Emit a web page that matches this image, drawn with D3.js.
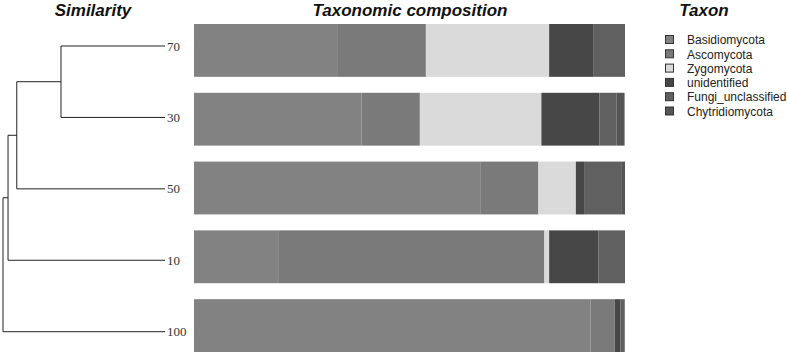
<!DOCTYPE html>
<html><head><meta charset="utf-8">
<script src="https://cdn.jsdelivr.net/npm/d3@7"></script>
<style>body{margin:0;background:#fff}svg{display:block}</style>
</head><body>
<svg id="chart" width="787" height="356"></svg>
<script>
const samples = ["70","30","50","10","100"];
const taxa = ["Basidiomycota","Ascomycota","Zygomycota","unidentified","Fungi_unclassified","Chytridiomycota"];
const basidiomycota = [33.4, 38.9, 66.4, 19.7, 92.0];
const ascomycota    = [20.4, 13.5, 13.5, 61.6, 5.6];
const zygomycota    = [28.6, 28.2, 8.7, 1.1, 0.0];
const unidentified  = [10.2, 13.5, 1.9, 11.4, 1.3];
const fungiUnclass  = [7.4, 3.9, 8.6, 6.2, 1.0];
const chytridio     = [0.0, 1.9, 0.9, 0.0, 0.1];
const colors = ["#828282","#7a7a7a","#dadada","#474747","#606060","#555555"];
// dendrogram: nested merge order and merge heights (relative distance)
const tree = [[[["70","30"],"50"],"10"],"100"];
const mergeHeights = {"70|30":0.642, "70|30|50":0.915, "70|30|50|10":0.969, "70|30|50|10|100":1.0};

const svg = d3.select("#chart");
const series = [basidiomycota, ascomycota, zygomycota, unidentified, fungiUnclass, chytridio];
const rows = samples.map((s,i)=>{const r={sample:s}; taxa.forEach((t,j)=>r[t]=series[j][i]); return r;});
const stack = d3.stack().keys(taxa)(rows);

const x = d3.scaleLinear().domain([0,100]).range([194,625]);
const y = d3.scaleBand().domain(samples).range([24,352]).paddingInner(0.232).paddingOuter(0);
const color = d3.scaleOrdinal().domain(taxa).range(colors);

svg.append("g").selectAll("g").data(stack).join("g").attr("fill",d=>color(d.key))
  .selectAll("rect").data(d=>d).join("rect")
  .attr("x",d=>x(d[0])).attr("width",d=>Math.max(0,x(d[1])-x(d[0])))
  .attr("y",d=>y(d.data.sample)).attr("height",y.bandwidth());

// dendrogram
const leafY = d3.scalePoint().domain(samples).range([46,331.7]);
const hx = d3.scaleLinear().domain([0,1]).range([165,3]);
const dg = svg.append("g").attr("fill","none").attr("stroke","#222").attr("stroke-width",1);
function leaves(n){return Array.isArray(n)? n.flatMap(leaves):[n];}
function draw(n){
  if(!Array.isArray(n)) return {x:hx(0), y:leafY(n)};
  const a=draw(n[0]), b=draw(n[1]);
  const h=mergeHeights[leaves(n).join("|")];
  const nx=hx(h);
  dg.append("path").attr("d",`M${a.x},${a.y}H${nx}V${b.y}H${b.x}`);
  return {x:nx, y:(a.y+b.y)/2};
}
draw(tree);
svg.append("g").selectAll("text").data(samples).join("text")
  .attr("x",167).attr("y",d=>leafY(d)).attr("dy","0.35em")
  .attr("font-family","Liberation Serif, serif").attr("font-size",13).attr("fill","#333")
  .text(d=>d);

// titles
const tt = [["Similarity",93],["Taxonomic composition",410],["Taxon",704]];
svg.append("g").selectAll("text").data(tt).join("text")
  .attr("x",d=>d[1]).attr("y",16).attr("text-anchor","middle")
  .attr("font-family","Liberation Sans, Arial, sans-serif").attr("font-weight","bold").attr("font-style","italic")
  .attr("font-size",17).attr("fill","#111").text(d=>d[0]);

// legend
const lg = svg.append("g").selectAll("g").data(taxa).join("g")
  .attr("transform",(d,i)=>`translate(665,${40+i*14.3})`);
lg.append("rect").attr("x",0.5).attr("y",-4.5).attr("width",8).attr("height",8)
  .attr("fill",d=>color(d)).attr("stroke","#333");
lg.append("text").attr("x",22).attr("y",0).attr("dy","0.35em")
  .attr("font-family","Liberation Sans, Arial, sans-serif").attr("font-size",12).attr("fill","#222").text(d=>d);
</script>
</body></html>
